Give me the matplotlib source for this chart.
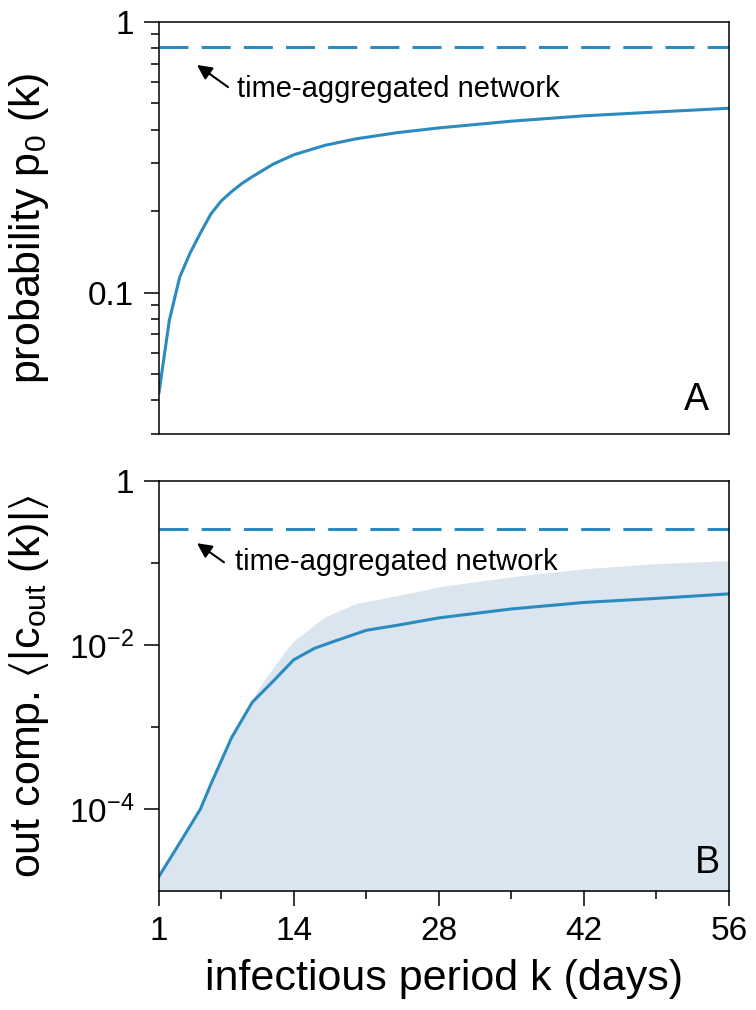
#!/usr/bin/env python3
"""Probability p0(k) and out-component size vs infectious period."""

import matplotlib

matplotlib.use("Agg")
import matplotlib.pyplot as plt
from matplotlib.ticker import FixedLocator, NullFormatter

# panel A: probability p0(k)
k_a = [1, 2, 3, 4, 5, 6, 7, 8, 9, 10, 12, 14, 17, 20, 24, 28, 35, 42, 49, 56]
p0 = [0.0427, 0.079, 0.114, 0.140, 0.166, 0.195, 0.218, 0.236, 0.253, 0.268,
      0.298, 0.323, 0.35, 0.37, 0.39, 0.406, 0.43, 0.45, 0.465, 0.48]
p0_aggregated = 0.81

# panel B: mean out-component size and its spread
k_b = [1, 3, 5, 6, 8, 10, 12, 14, 16, 18, 21, 24, 28, 35, 42, 49, 56]
c_out = [1.51e-5, 3.85e-5, 1.0e-4, 2.0e-4, 7.4e-4, 2.0e-3, 3.6e-3, 6.6e-3,
         9.1e-3, 1.12e-2, 1.51e-2, 1.74e-2, 2.14e-2, 2.75e-2, 3.3e-2,
         3.7e-2, 4.2e-2]
k_band = [1, 3, 5, 6, 8, 10, 11, 13, 14, 17, 20, 24, 28, 35, 42, 49, 56]
band_high = [1.5e-5, 3.7e-5, 9.5e-5, 1.9e-4, 7.9e-4, 2.2e-3, 3.5e-3, 7.9e-3,
             1.12e-2, 2.2e-2, 3.2e-2, 4.0e-2, 5.1e-2, 6.8e-2, 8.5e-2,
             9.8e-2, 0.107]
band_low = 1e-6
c_out_aggregated = 0.259

x_major = [1, 14, 28, 42, 56]
x_minor = [7, 21, 35, 49]

BLUE = "#2b8bbf"
BAND = "#dae5ef"

plt.rcParams["font.family"] = ["Liberation Sans", "DejaVu Sans"]
plt.rcParams["mathtext.fontset"] = "custom"
plt.rcParams["mathtext.rm"] = "Liberation Sans"
plt.rcParams["mathtext.it"] = "Liberation Sans:italic"
plt.rcParams["mathtext.fallback"] = "stixsans"
plt.rcParams["axes.linewidth"] = 1.1

fig = plt.figure(figsize=(7.56, 10.1), dpi=100)
ax_a = fig.add_axes([0.2103, 0.5703, 0.754, 0.4079])
ax_b = fig.add_axes([0.2103, 0.1178, 0.754, 0.406])

dash = (9.5, 4.3)

# --- panel A
ax_a.plot(k_a, p0, color=BLUE, lw=2.2)
ax_a.axhline(p0_aggregated, color=BLUE, lw=2.2, dashes=dash)
ax_a.set_yscale("log")
ax_a.set_ylim(0.0300, 1)
ax_a.set_xlim(1, 56)
ax_a.yaxis.set_major_locator(FixedLocator([0.1, 1]))
ax_a.set_yticklabels(["0.1", "1"])
ax_a.yaxis.set_minor_locator(FixedLocator(
    [0.03, 0.04, 0.05, 0.06, 0.07, 0.08, 0.09,
     0.2, 0.3, 0.4, 0.5, 0.6, 0.7, 0.8, 0.9]))
ax_a.yaxis.set_minor_formatter(NullFormatter())
ax_a.set_ylabel("probability p$_0$ (k)", fontsize=31)
ax_a.yaxis.set_label_coords(-0.19, 0.5)
ax_a.annotate("", xy=(4.67, 0.694), xytext=(7.66, 0.575),
              arrowprops=dict(arrowstyle="-|>", color="black", lw=1.5,
                              mutation_scale=22, shrinkA=0, shrinkB=0))
ax_a.text(8.5, 0.528, "time-aggregated network", fontsize=21,
          ha="left", va="baseline")
ax_a.text(0.965, 0.04, "A", transform=ax_a.transAxes, fontsize=27,
          ha="right", va="bottom")

# --- panel B
ax_b.fill_between(k_band, band_low, band_high, color=BAND, lw=0)
ax_b.plot(k_b, c_out, color=BLUE, lw=2.2)
ax_b.axhline(c_out_aggregated, color=BLUE, lw=2.2, dashes=dash)
ax_b.set_yscale("log")
ax_b.set_ylim(1e-5, 1)
ax_b.set_xlim(1, 56)
ax_b.yaxis.set_major_locator(FixedLocator([1e-4, 1e-2, 1]))
ax_b.set_yticklabels([r"10$^{-4}$", r"10$^{-2}$", "1"])
ax_b.yaxis.set_minor_locator(FixedLocator([1e-3, 1e-1]))
ax_b.yaxis.set_minor_formatter(NullFormatter())
ax_b.xaxis.set_major_locator(FixedLocator(x_major))
ax_b.xaxis.set_minor_locator(FixedLocator(x_minor))
ax_b.set_xticklabels([str(v) for v in x_major])
ax_b.set_ylabel(r"out comp. $\langle$|c$_{\rm out}$ (k)|$\rangle$",
                fontsize=31)
ax_b.yaxis.set_label_coords(-0.19, 0.5)
ax_b.set_xlabel("infectious period k (days)", fontsize=31)
ax_b.xaxis.set_label_coords(0.5, -0.165)
ax_b.annotate("", xy=(4.67, 0.174), xytext=(7.27, 0.102),
              arrowprops=dict(arrowstyle="-|>", color="black", lw=1.5,
                              mutation_scale=22, shrinkA=0, shrinkB=0))
ax_b.text(8.3, 0.0814, "time-aggregated network", fontsize=21,
          ha="left", va="baseline")
ax_b.text(0.985, 0.025, "B", transform=ax_b.transAxes, fontsize=27,
          ha="right", va="bottom")

for ax in (ax_a, ax_b):
    ax.tick_params(which="major", direction="out", length=11, width=1.1,
                   labelsize=24, right=False, top=False, pad=7)
    ax.tick_params(which="minor", direction="out", length=5.5, width=1.1,
                   right=False, top=False)
ax_a.tick_params(axis="x", which="both", bottom=False, labelbottom=False)

fig.savefig("out.png", dpi=100)
